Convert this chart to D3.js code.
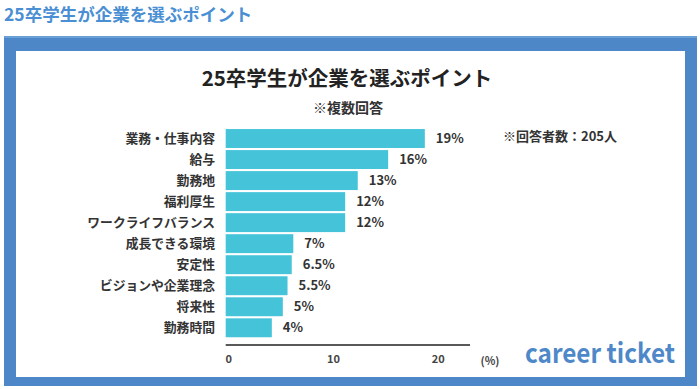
<!DOCTYPE html>
<html><head><meta charset="utf-8">
<script src="https://cdn.jsdelivr.net/npm/d3@7"></script>
<style>
html,body{margin:0;padding:0;background:#fff;}
svg{display:block;}
text{font-family:"Noto Sans CJK JP","Noto Sans",sans-serif;}
</style></head>
<body>
<script>
const categories = ["業務・仕事内容","給与","勤務地","福利厚生","ワークライフバランス","成長できる環境","安定性","ビジョンや企業理念","将来性","勤務時間"];
const values = [19, 15.5, 12.6, 11.4, 11.4, 6.45, 6.3, 5.9, 5.45, 4.4];
const valueLabels = ["19%","16%","13%","12%","12%","7%","6.5%","5.5%","5%","4%"];
const tickValues = [0, 10, 20];
const pageTitle = "25卒学生が企業を選ぶポイント";
const chartTitle = "25卒学生が企業を選ぶポイント";
const subtitle = "※複数回答";
const note = "※回答者数：205人";
const unitLabel = "(%)";
const logoText = "career ticket";

const W = 700, H = 389;
const svg = d3.select("body").append("svg").attr("width", W).attr("height", H);

// page title
svg.append("text").attr("x", 4).attr("y", 21)
  .attr("font-size", 17.5).attr("font-weight", 700).attr("fill", "#4a8fd3")
  .text(pageTitle);

// frame
svg.append("rect").attr("x", 4).attr("y", 36).attr("width", 693).attr("height", 350).attr("fill", "#4d87c7");
svg.append("rect").attr("x", 4).attr("y", 36).attr("width", 693).attr("height", 2).attr("fill", "#6aa0d8");
svg.append("rect").attr("x", 16).attr("y", 51).attr("width", 669).attr("height", 326).attr("fill", "#ffffff");

// chart title
svg.append("text").attr("x", 347).attr("y", 86).attr("text-anchor", "middle")
  .attr("font-size", 20.5).attr("font-weight", 700).attr("fill", "#222")
  .text(chartTitle);
svg.append("text").attr("x", 348).attr("y", 113).attr("text-anchor", "middle")
  .attr("font-size", 14).attr("font-weight", 700).attr("fill", "#333")
  .text(subtitle);

const x = d3.scaleLinear().domain([0, 20]).range([225.7, 435.3]);
const y = d3.scaleBand().domain(categories).range([128, 338.3]).paddingInner(0.1).paddingOuter(0.05);

const g = svg.append("g");
g.selectAll("rect.bar").data(categories).join("rect").attr("class", "bar")
  .attr("x", x(0)).attr("y", d => y(d))
  .attr("width", (d, i) => x(values[i]) - x(0)).attr("height", y.bandwidth())
  .attr("fill", "#45c3d9");

g.selectAll("text.cat").data(categories).join("text").attr("class", "cat")
  .attr("x", 215).attr("y", d => y(d) + y.bandwidth() / 2).attr("dy", "0.36em")
  .attr("text-anchor", "end").attr("font-size", 12.8).attr("font-weight", 700).attr("fill", "#333")
  .text(d => d);

g.selectAll("text.val").data(categories).join("text").attr("class", "val")
  .attr("x", (d, i) => x(values[i]) + 11).attr("y", d => y(d) + y.bandwidth() / 2).attr("dy", "0.36em")
  .attr("font-size", 13).attr("font-weight", 700).attr("fill", "#333")
  .text((d, i) => valueLabels[i]);

// axis
const axis = d3.axisBottom(x).tickValues(tickValues).tickSize(0).tickPadding(10).tickFormat(d3.format("d"));
const ax = svg.append("g").attr("transform", "translate(0,345)").call(axis);
ax.select(".domain").remove();
ax.selectAll("text").attr("font-size", 11).attr("font-weight", 700).attr("fill", "#444")
  .attr("font-family", "\"Noto Sans CJK JP\",sans-serif").attr("dx", 2.5);
svg.append("line").attr("x1", x(0)).attr("x2", 470).attr("y1", 345).attr("y2", 345)
  .attr("stroke", "#222").attr("stroke-width", 1.5);
svg.append("text").attr("x", 490).attr("y", 365).attr("text-anchor", "middle")
  .attr("font-size", 11).attr("font-weight", 700).attr("fill", "#444").text(unitLabel);

// note
svg.append("text").attr("x", 503).attr("y", 141)
  .attr("font-size", 13).attr("font-weight", 700).attr("fill", "#333").text(note);

// logo
svg.append("text").attr("x", 525).attr("y", 363)
  .attr("font-family", "Lato, Roboto, sans-serif")
  .attr("font-size", 27).attr("font-weight", 700).attr("fill", "#4e88c8")
  .attr("textLength", 150).attr("lengthAdjust", "spacingAndGlyphs")
  .text(logoText);
</script>
</body></html>
